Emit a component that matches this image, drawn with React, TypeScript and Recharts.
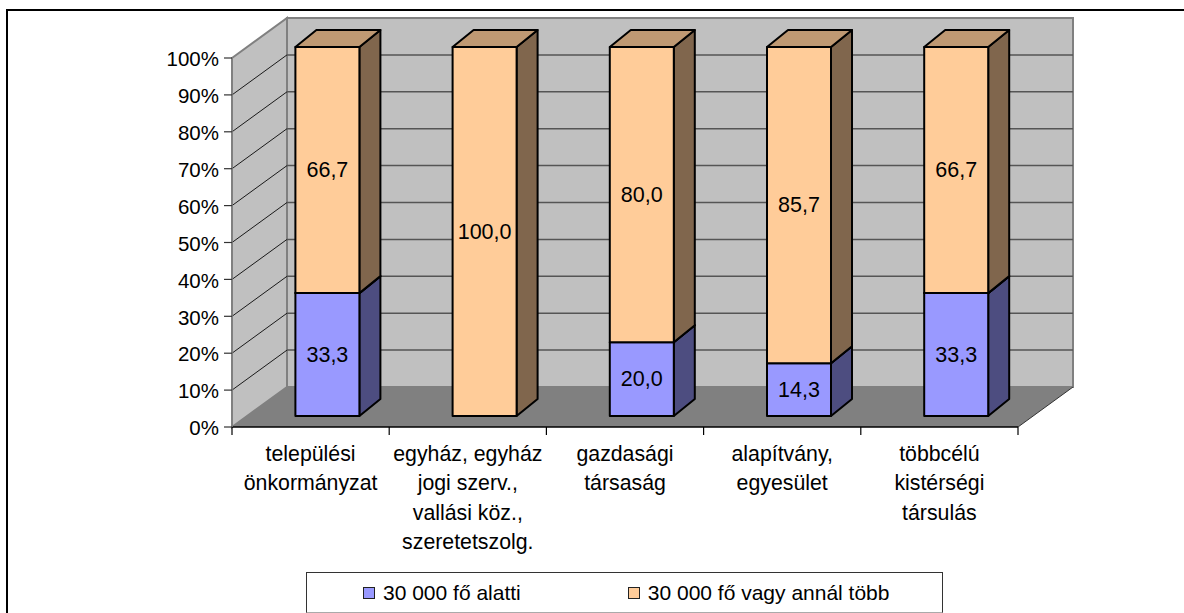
import { BarChart, Bar, XAxis, YAxis, Legend, LabelList, usePlotArea } from "recharts";

const categories = [
  "települési önkormányzat",
  "egyház, egyház jogi szerv., vallási köz., szeretetszolg.",
  "gazdasági társaság",
  "alapítvány, egyesület",
  "többcélú kistérségi társulás",
];
const categoryLines = [
  ["települési", "önkormányzat"],
  ["egyház, egyház", "jogi szerv.,", "vallási köz.,", "szeretetszolg."],
  ["gazdasági", "társaság"],
  ["alapítvány,", "egyesület"],
  ["többcélú", "kistérségi", "társulás"],
];
const under30k = [33.3, 0, 20.0, 14.3, 33.3];
const over30k = [66.7, 100.0, 80.0, 85.7, 66.7];
const percentTicks = [0, 10, 20, 30, 40, 50, 60, 70, 80, 90, 100];

const data = categories.map((category, i) => ({
  category,
  under: under30k[i],
  over: over30k[i],
}));

const FONT = "'Liberation Sans', Arial, sans-serif";

// depth of the fake 3D box and of the bars inside it
const WALL_DX = 55;
const WALL_DY = 40;
const BAR_DX = 21;
const BAR_DY = 17;
const BAR_SHIFT_X = 16.4;
const BAR_SHIFT_Y = 11;

function Walls() {
  const plot = usePlotArea();
  if (!plot) return null;
  const { x, y, width, height } = plot;
  const bottom = y + height;
  const right = x + width;
  const yOf = (t: number) => bottom - (height * t) / 100;
  const bandW = width / categories.length;

  return (
    <g>
      <rect x={x + WALL_DX} y={y - WALL_DY} width={width} height={height} fill="#c0c0c0" stroke="#808080" strokeWidth={2} />
      <polygon
        points={`${x},${y} ${x + WALL_DX},${y - WALL_DY} ${x + WALL_DX},${bottom - WALL_DY} ${x},${bottom}`}
        fill="#c0c0c0"
        stroke="#808080"
        strokeWidth={2}
      />
      <polygon
        points={`${x},${bottom} ${x + WALL_DX},${bottom - WALL_DY} ${right + WALL_DX},${bottom - WALL_DY} ${right},${bottom}`}
        fill="#808080"
      />
      {percentTicks.slice(1, -1).map((t) => (
        <g key={t}>
          <line x1={x} y1={yOf(t)} x2={x + WALL_DX} y2={yOf(t) - WALL_DY} stroke="#1a1a1a" strokeWidth={1} />
          <line x1={x + WALL_DX} y1={yOf(t) - WALL_DY} x2={right + WALL_DX} y2={yOf(t) - WALL_DY} stroke="#555555" strokeWidth={1.5} />
        </g>
      ))}
      {categories.map((_, i) => (
        <line key={i} x1={x + bandW * i} y1={bottom} x2={x + bandW * i} y2={bottom + 8} stroke="#000" strokeWidth={1.2} />
      ))}
      <line x1={right} y1={bottom} x2={right} y2={bottom + 8} stroke="#000" strokeWidth={1.2} />
      <line x1={right} y1={bottom} x2={right + WALL_DX} y2={bottom - WALL_DY} stroke="#333" strokeWidth={1} />
    </g>
  );
}

function Bar3D(props: any) {
  const { x, y, width, height, fill, sideFill, topFill } = props;
  if (!height) return null;
  const l = x + BAR_SHIFT_X;
  const r = l + width;
  const t = y - BAR_SHIFT_Y;
  const b = t + height;
  return (
    <g stroke="#000" strokeWidth={2} strokeLinejoin="round">
      <polygon points={`${r},${t} ${r + BAR_DX},${t - BAR_DY} ${r + BAR_DX},${b - BAR_DY} ${r},${b}`} fill={sideFill} />
      <polygon points={`${l},${t} ${l + BAR_DX},${t - BAR_DY} ${r + BAR_DX},${t - BAR_DY} ${r},${t}`} fill={topFill} />
      <rect x={l} y={t} width={width} height={height} fill={fill} />
    </g>
  );
}

function BarValue(props: any) {
  const { x, y, width, height, value } = props;
  if (!value) return null;
  return (
    <text
      x={x + width / 2 + BAR_SHIFT_X}
      y={y + height / 2 - BAR_SHIFT_Y}
      textAnchor="middle"
      dominantBaseline="central"
      fontSize={21.5}
      fontFamily={FONT}
      fill="#000"
    >
      {value.toFixed(1).replace(".", ",")}
    </text>
  );
}

function CategoryTick(props: any) {
  const { x, y, index } = props;
  return (
    <text x={x} textAnchor="middle" fontSize={21.3} fontFamily={FONT} fill="#000">
      {categoryLines[index].map((line, i) => (
        <tspan key={line} x={x} y={y + 26 + i * 29.3}>
          {line}
        </tspan>
      ))}
    </text>
  );
}

function LegendBox({ payload }: any) {
  return (
    <div
      style={{
        boxSizing: "border-box",
        width: 637,
        height: 41,
        border: "1.5px solid #333",
        borderBottomColor: "#aaa",
        background: "#fff",
        display: "flex",
        alignItems: "center",
        fontFamily: FONT,
        fontSize: 21,
        color: "#000",
      }}
    >
      {(payload || []).map((item: any, i: number) => (
        <div key={item.value} style={{ display: "flex", alignItems: "center", marginLeft: i === 0 ? 56 : 107 }}>
          <span
            style={{
              boxSizing: "border-box",
              display: "inline-block",
              width: 12,
              height: 12,
              marginRight: 8,
              background: item.color,
              border: "1.5px solid #222",
            }}
          />
          {item.value}
        </div>
      ))}
    </div>
  );
}

export default function App() {
  return (
    <div style={{ position: "absolute", left: 0, top: 0, width: 1184, height: 613, overflow: "hidden", background: "#fff" }}>
      <div style={{ position: "absolute", left: 6, top: 9, width: 1178, height: 604, borderLeft: "2px solid #000", borderTop: "2px solid #000" }} />
      <BarChart
        width={1184}
        height={613}
        data={data}
        margin={{ top: 58, right: 166, bottom: 15, left: 172 }}
        barSize={64}
        style={{ position: "absolute", left: 0, top: 0 }}
      >
        <Walls />
        <XAxis
          dataKey="category"
          interval={0}
          height={130}
          tickLine={false}
          axisLine={{ stroke: "#000", strokeWidth: 1.5 }}
          tick={<CategoryTick />}
        />
        <YAxis
          width={60}
          domain={[0, 100]}
          ticks={percentTicks}
          interval={0}
          tickSize={8}
          tickMargin={5}
          tickFormatter={(v: number) => `${v}%`}
          tick={{ fill: "#000", fontSize: 20.5, fontFamily: FONT, dy: 1 }}
          tickLine={{ stroke: "#333", strokeWidth: 1.2 }}
          axisLine={{ stroke: "#808080", strokeWidth: 1.5 }}
        />
        <Legend
          verticalAlign="bottom"
          content={<LegendBox />}
          wrapperStyle={{ position: "absolute", left: 306, top: 572, width: 637, height: 41, bottom: "auto" }}
        />
        <Bar
          dataKey="under"
          name="30 000 fő alatti"
          stackId="a"
          fill="#9999ff"
          isAnimationActive={false}
          shape={(p: any) => <Bar3D {...p} sideFill="#4d4d80" topFill="#7373bf" />}
        >
          <LabelList dataKey="under" content={<BarValue />} />
        </Bar>
        <Bar
          dataKey="over"
          name="30 000 fő vagy annál több"
          stackId="a"
          fill="#ffcc99"
          isAnimationActive={false}
          shape={(p: any) => <Bar3D {...p} sideFill="#80664d" topFill="#bf9973" />}
        >
          <LabelList dataKey="over" content={<BarValue />} />
        </Bar>
      </BarChart>
    </div>
  );
}
